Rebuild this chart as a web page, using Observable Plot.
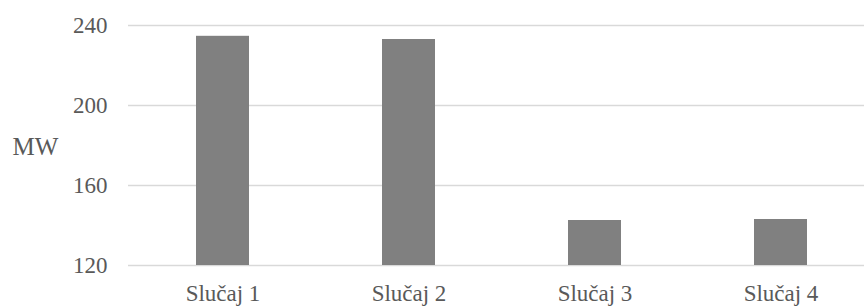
<!DOCTYPE html>
<html>
<head>
<meta charset="utf-8">
<script src="https://cdn.jsdelivr.net/npm/d3@7"></script>
<script src="https://cdn.jsdelivr.net/npm/@observablehq/plot@0.6"></script>
<style>
  html, body { margin: 0; padding: 0; background: #fff; overflow: hidden; }
  #chart svg { max-width: none !important; display: block; }
  #chart svg text { font-family: "Liberation Serif", "Times New Roman", serif !important; }
</style>
</head>
<body>
<div id="chart"></div>
<script>
const categories = ["Slučaj 1", "Slučaj 2", "Slučaj 3", "Slučaj 4"];
const values = [234.6, 233, 142.5, 143];
const yTicks = [120, 160, 200, 240];
const yLabel = "MW";

const data = categories.map((c, i) => ({category: c, value: values[i]}));
const font = "Liberation Serif";
const textColor = "#595959";

const chart = Plot.plot({
  width: 875,
  height: 306,
  marginTop: 25,
  marginBottom: 41,
  marginLeft: 128,
  marginRight: 0,
  x: {domain: categories, paddingInner: 0.714, paddingOuter: 0.357, label: null},
  y: {domain: [120, 240], label: null},
  marks: [
    Plot.gridY(yTicks, {stroke: "#d9d9d9", strokeOpacity: 1, strokeWidth: 1.5}),
    Plot.barY(data, {x: "category", y1: 120, y2: "value", fill: "#808080"}),
    Plot.axisY(yTicks, {tickSize: 0, tickPadding: 21, fontSize: 23, fontFamily: font, fill: textColor, label: null}),
    Plot.axisX({tickSize: 0, tickPadding: 19, fontSize: 23, fontFamily: font, fill: textColor, label: null}),
    Plot.text([yLabel], {frameAnchor: "left", text: d => d, dx: -116, dy: 1, textAnchor: "start", fontSize: 25, fontFamily: font, fill: textColor})
  ]
});
document.getElementById("chart").appendChild(chart);
</script>
</body>
</html>
